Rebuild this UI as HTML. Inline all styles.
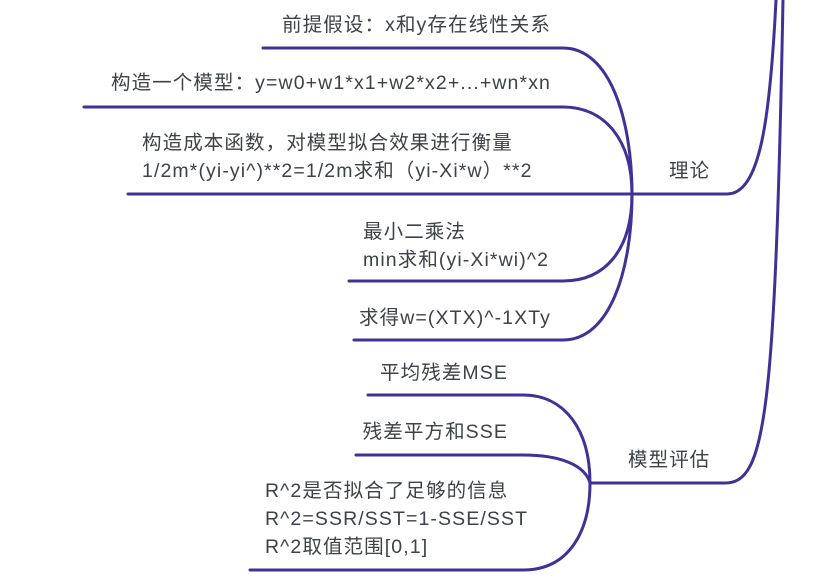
<!DOCTYPE html>
<html><head><meta charset="utf-8"><style>
html,body{margin:0;padding:0;background:#fff;}
body{width:814px;height:579px;position:relative;overflow:hidden;font-family:"Liberation Sans","Noto Sans CJK SC",sans-serif;}
.t{position:absolute;font-size:19.5px;letter-spacing:1.1px;color:#3d4148;line-height:28px;white-space:nowrap;}
.r{text-align:right;}
</style></head><body>
<svg width="814" height="579" style="position:absolute;left:0;top:0" fill="none" stroke="#3f3196" stroke-width="3" stroke-linecap="round">
<path d="M632 194 H727 C760 194 770 120 776 0"/>
<path d="M590 483 H725 C765 483 775 420 783 0"/>
<path d="M263 48 H563 C610 48 632 120 632 194"/>
<path d="M84 107 H563 C605 107 632 140 632 194"/>
<path d="M128 194 H632"/>
<path d="M349 281 H563 C605 281 632 250 632 194"/>
<path d="M354 340 H563 C610 340 632 270 632 194"/>
<path d="M368 395 H523 C565 395 590 430 590 483"/>
<path d="M356 455 H523 C560 455 585 465 590 483"/>
<path d="M250 570 H523 C570 570 590 530 590 483"/>
</svg>
<div class="t r" style="right:263px;top:11px">前提假设：x和y存在线性关系</div>
<div class="t r" style="right:263px;top:69px">构造一个模型：y=w0+w1*x1+w2*x2+...+wn*xn</div>
<div class="t" style="left:142px;top:129px">构造成本函数，对模型拟合效果进行衡量<br>1/2m*(yi-yi^)**2=1/2m求和（yi-Xi*w）**2</div>
<div class="t" style="left:363px;top:218px">最小二乘法<br>min求和(yi-Xi*wi)^2</div>
<div class="t r" style="right:263px;top:304px">求得w=(XTX)^-1XTy</div>
<div class="t" style="left:669px;top:157px">理论</div>
<div class="t r" style="right:306px;top:359px">平均残差MSE</div>
<div class="t r" style="right:306px;top:418px">残差平方和SSE</div>
<div class="t" style="left:265px;top:477px">R^2是否拟合了足够的信息<br>R^2=SSR/SST=1-SSE/SST<br>R^2取值范围[0,1]</div>
<div class="t" style="left:628px;top:446px">模型评估</div>
</body></html>
